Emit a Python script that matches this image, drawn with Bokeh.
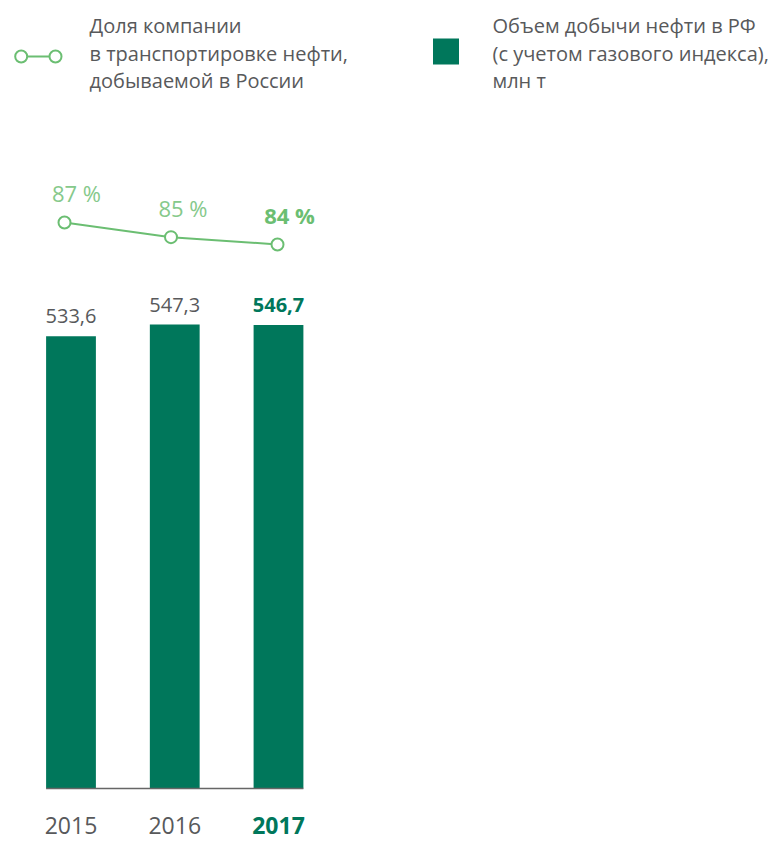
from bokeh.plotting import figure
from bokeh.models import ColumnDataSource, Range1d
from bokeh.core.properties import value
from bokeh.embed import file_html
from bokeh.resources import INLINE

# ---- data ----
years = [2015, 2016, 2017]
year_labels = ["2015", "2016", "2017"]
production = [533.6, 547.3, 546.7]
production_labels = ["533,6", "547,3", "546,7"]
share = [87, 85, 84]
share_labels = ["87 %", "85 %", "84 %"]
legend_line_text = ["Доля компании", "в транспортировке нефти,", "добываемой в России"]
legend_bar_text = ["Объем добычи нефти в РФ", "(с учетом газового индекса),", "млн т"]

# ---- styles ----
BAR = "#00775B"
LINE = "#6BBE72"
LINE_LIGHT = "#86C98B"
GRAY = "#58595B"
FONT = value("Open Sans")

W, H = 777, 844
p = figure(width=W, height=H, output_backend="svg", toolbar_location=None,
           x_range=Range1d(2014.3205, 2021.8097), y_range=Range1d(-66.06, 929.6),
           min_border=0, min_border_left=0, min_border_right=0,
           min_border_top=0, min_border_bottom=0)
p.axis.visible = False
p.grid.visible = False
p.outline_line_color = None
p.background_fill_color = "white"
p.border_fill_color = "white"

p.extra_x_ranges = {"line_x": Range1d(2014.399, 2021.695), "px": Range1d(0, W)}
p.extra_y_ranges = {"line_y": Range1d(2.18, 117.27), "py": Range1d(H, 0)}

last = years[-1]
is_last = [y == last for y in years]
styles = ["bold" if b else "normal" for b in is_last]

bw = 0.48
src = ColumnDataSource(dict(
    x=years, prod=production, plab=production_labels, ylab=year_labels,
    share=share, slab=share_labels, style=styles,
    vcol=[BAR if b else GRAY for b in is_last],
    ycol=[BAR if b else GRAY for b in is_last],
    scol=[LINE if b else LINE_LIGHT for b in is_last],
    zero=[0] * len(years),
))

# bars
p.vbar(x="x", top="prod", width=bw, bottom=0, source=src, color=BAR, line_color=None)
# baseline
p.segment(x0=[years[0] - bw / 2], x1=[years[-1] + bw / 2], y0=[0], y1=[0],
          line_color="#666666", line_width=1.5)

# value labels
p.text(x="x", y="prod", text="plab", source=src, text_align="center",
       text_baseline="alphabetic", y_offset=-20, text_font=FONT,
       text_font_size="20px", text_font_style="style", text_color="vcol")
# year labels
p.text(x="x", y="zero", text="ylab", source=src, text_align="center",
       text_baseline="alphabetic", y_offset=37, text_font=FONT,
       text_font_size="23px", text_font_style="style", text_color="ycol")

# line series
p.line(x="x", y="share", source=src, x_range_name="line_x", y_range_name="line_y",
       line_color=LINE, line_width=2)
p.scatter(x="x", y="share", source=src, x_range_name="line_x", y_range_name="line_y",
          size=12, fill_color="white", line_color=LINE, line_width=2)
p.text(x="x", y="share", text="slab", source=src, x_range_name="line_x", y_range_name="line_y",
       text_align="center", text_baseline="alphabetic", x_offset=12, y_offset=-29,
       text_font=FONT, text_font_size="22px", text_font_style="style", text_color="scol")

# ---- legend (pixel coordinates) ----
p.segment(x0=[20.7], x1=[55], y0=[56], y1=[56], x_range_name="px", y_range_name="py",
          line_color=LINE, line_width=2)
p.scatter(x=[20.7, 55], y=[56, 56], x_range_name="px", y_range_name="py",
          size=12, fill_color="white", line_color=LINE, line_width=2)
p.rect(x=[445.5], y=[51], width=26, height=26, x_range_name="px", y_range_name="py",
       fill_color=BAR, line_color=None)

base_y = [25, 52.5, 80]
p.text(x=[89] * 3, y=base_y, text=legend_line_text, x_range_name="px", y_range_name="py",
       text_baseline="alphabetic", text_align="left", text_font=FONT,
       text_font_size="20px", text_color=GRAY)
p.text(x=[492] * 3, y=base_y, text=legend_bar_text, x_range_name="px", y_range_name="py",
       text_baseline="alphabetic", text_align="left", text_font=FONT,
       text_font_size="20px", text_color=GRAY)

open("out.html", "w").write(file_html(p, INLINE))
